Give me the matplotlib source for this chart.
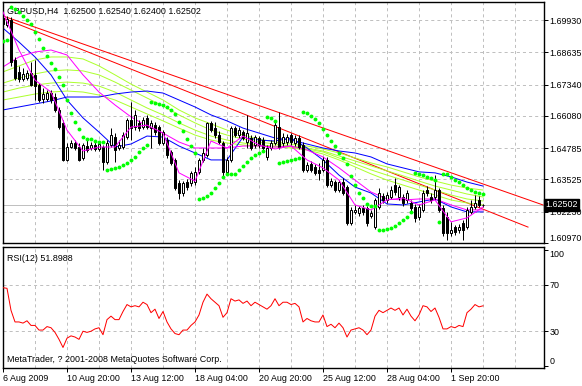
import matplotlib
matplotlib.use('Agg')
import matplotlib.pyplot as plt
import matplotlib.font_manager as fm
from matplotlib.transforms import blended_transform_factory

# GBPUSD H4, 121 bars (bar 0 = 6 Aug 2009)
opens = [1.7002, 1.6973, 1.6994, 1.6833, 1.6785, 1.6756, 1.6760, 1.6781, 1.6773, 1.6732,
         1.6676, 1.6676, 1.6700, 1.6684, 1.6632, 1.6580, 1.6431, 1.6483, 1.6499, 1.6483,
         1.6439, 1.6487, 1.6479, 1.6491, 1.6475, 1.6483, 1.6423, 1.6491, 1.6523, 1.6479,
         1.6483, 1.6523, 1.6592, 1.6563, 1.6580, 1.6563, 1.6600, 1.6559, 1.6571, 1.6563,
         1.6499, 1.6511, 1.6463, 1.6431, 1.6338, 1.6298, 1.6342, 1.6338, 1.6342, 1.6383,
         1.6431, 1.6451, 1.6580, 1.6559, 1.6531, 1.6499, 1.6383, 1.6431, 1.6559, 1.6531,
         1.6543, 1.6503, 1.6519, 1.6491, 1.6519, 1.6511, 1.6443, 1.6479, 1.6499, 1.6563,
         1.6499, 1.6503, 1.6531, 1.6499, 1.6519, 1.6491, 1.6391, 1.6415, 1.6403, 1.6391,
         1.6391, 1.6431, 1.6330, 1.6342, 1.6310, 1.6342, 1.6322, 1.6178, 1.6222, 1.6218,
         1.6238, 1.6238, 1.6206, 1.6161, 1.6242, 1.6286, 1.6270, 1.6282, 1.6330, 1.6282,
         1.6282, 1.6270, 1.6258, 1.6242, 1.6202, 1.6230, 1.6310, 1.6282, 1.6282, 1.6310,
         1.6238, 1.6202, 1.6137, 1.6161, 1.6149, 1.6178, 1.6161, 1.6222, 1.6242, 1.6270,
         1.62500]
highs = [1.7014, 1.7010, 1.7006, 1.6845, 1.6809, 1.6801, 1.6793, 1.6825, 1.6833, 1.6740,
         1.6720, 1.6712, 1.6712, 1.6700, 1.6644, 1.6592, 1.6499, 1.6511, 1.6511, 1.6499,
         1.6499, 1.6519, 1.6503, 1.6511, 1.6507, 1.6491, 1.6511, 1.6559, 1.6539, 1.6511,
         1.6543, 1.6600, 1.6664, 1.6632, 1.6592, 1.6604, 1.6612, 1.6592, 1.6584, 1.6571,
         1.6551, 1.6523, 1.6471, 1.6439, 1.6350, 1.6346, 1.6354, 1.6387, 1.6403, 1.6439,
         1.6479, 1.6584, 1.6588, 1.6584, 1.6547, 1.6507, 1.6443, 1.6567, 1.6567, 1.6563,
         1.6551, 1.6612, 1.6531, 1.6531, 1.6527, 1.6523, 1.6491, 1.6511, 1.6592, 1.6624,
         1.6539, 1.6535, 1.6539, 1.6531, 1.6531, 1.6503, 1.6423, 1.6427, 1.6415, 1.6419,
         1.6443, 1.6443, 1.6358, 1.6350, 1.6350, 1.6358, 1.6330, 1.6242, 1.6250, 1.6246,
         1.6250, 1.6246, 1.6230, 1.6278, 1.6318, 1.6298, 1.6302, 1.6326, 1.6358, 1.6330,
         1.6294, 1.6310, 1.6270, 1.6254, 1.6254, 1.6310, 1.6326, 1.6298, 1.6370, 1.6318,
         1.6250, 1.6222, 1.6182, 1.6169, 1.6174, 1.6190, 1.6242, 1.6270, 1.6290, 1.6286,
         1.62540]
lows = [1.6965, 1.6965, 1.6809, 1.6752, 1.6744, 1.6748, 1.6752, 1.6728, 1.6672, 1.6664,
        1.6660, 1.6668, 1.6660, 1.6624, 1.6555, 1.6427, 1.6427, 1.6479, 1.6471, 1.6427,
        1.6431, 1.6463, 1.6471, 1.6467, 1.6467, 1.6391, 1.6415, 1.6483, 1.6423, 1.6471,
        1.6475, 1.6515, 1.6511, 1.6551, 1.6547, 1.6555, 1.6555, 1.6479, 1.6531, 1.6491,
        1.6491, 1.6439, 1.6411, 1.6310, 1.6274, 1.6286, 1.6310, 1.6326, 1.6330, 1.6375,
        1.6423, 1.6443, 1.6543, 1.6519, 1.6495, 1.6358, 1.6375, 1.6423, 1.6523, 1.6519,
        1.6511, 1.6479, 1.6471, 1.6479, 1.6479, 1.6471, 1.6431, 1.6471, 1.6491, 1.6475,
        1.6487, 1.6491, 1.6491, 1.6487, 1.6475, 1.6383, 1.6383, 1.6383, 1.6370, 1.6350,
        1.6383, 1.6322, 1.6322, 1.6302, 1.6302, 1.6290, 1.6169, 1.6169, 1.6214, 1.6206,
        1.6210, 1.6165, 1.6198, 1.6153, 1.6234, 1.6258, 1.6258, 1.6274, 1.6290, 1.6270,
        1.6246, 1.6258, 1.6226, 1.6182, 1.6190, 1.6222, 1.6286, 1.6258, 1.6270, 1.6222,
        1.6125, 1.6109, 1.6125, 1.6129, 1.6137, 1.6109, 1.6153, 1.6214, 1.6234, 1.6242,
        1.62400]
closes = [1.6977, 1.6998, 1.6825, 1.6760, 1.6756, 1.6777, 1.6781, 1.6732, 1.6728, 1.6672,
          1.6696, 1.6700, 1.6672, 1.6632, 1.6563, 1.6431, 1.6483, 1.6499, 1.6479, 1.6431,
          1.6491, 1.6471, 1.6491, 1.6475, 1.6495, 1.6423, 1.6499, 1.6531, 1.6471, 1.6491,
          1.6531, 1.6592, 1.6559, 1.6612, 1.6559, 1.6592, 1.6563, 1.6580, 1.6543, 1.6499,
          1.6543, 1.6451, 1.6419, 1.6318, 1.6298, 1.6338, 1.6322, 1.6379, 1.6383, 1.6431,
          1.6459, 1.6580, 1.6551, 1.6531, 1.6503, 1.6383, 1.6431, 1.6559, 1.6531, 1.6551,
          1.6519, 1.6539, 1.6479, 1.6523, 1.6491, 1.6479, 1.6479, 1.6499, 1.6571, 1.6483,
          1.6523, 1.6523, 1.6503, 1.6519, 1.6483, 1.6391, 1.6411, 1.6391, 1.6379, 1.6379,
          1.6431, 1.6330, 1.6346, 1.6310, 1.6342, 1.6298, 1.6178, 1.6230, 1.6230, 1.6238,
          1.6222, 1.6178, 1.6218, 1.6270, 1.6298, 1.6270, 1.6290, 1.6310, 1.6302, 1.6322,
          1.6258, 1.6298, 1.6238, 1.6198, 1.6242, 1.6298, 1.6298, 1.6270, 1.6310, 1.6230,
          1.6137, 1.6137, 1.6149, 1.6141, 1.6161, 1.6149, 1.6230, 1.6242, 1.6258, 1.6250,
          1.62502]

# parabolic SAR dots, one per bar
sar = [1.6909, 1.6913, 1.7046, 1.7038, 1.7026, 1.7010, 1.6994, 1.6977, 1.6945, 1.6917,
       1.6881, 1.6849, 1.6821, 1.6797, 1.6765, 1.6732, 1.6672, 1.6620, 1.6584, 1.6555,
       1.6523, 1.6515, 1.6515, 1.6507, 1.6503, 1.6503, 1.6391, 1.6395, 1.6399, 1.6403,
       1.6411, 1.6419, 1.6431, 1.6443, 1.6463, 1.6479, 1.6491, 1.6664, 1.6660, 1.6656,
       1.6652, 1.6644, 1.6632, 1.6616, 1.6584, 1.6547, 1.6515, 1.6487, 1.6459, 1.6274,
       1.6278, 1.6286, 1.6298, 1.6318, 1.6338, 1.6363, 1.6375, 1.6375, 1.6375, 1.6391,
       1.6407, 1.6423, 1.6439, 1.6451, 1.6459, 1.6467, 1.6604, 1.6600, 1.6588, 1.6419,
       1.6423, 1.6427, 1.6431, 1.6435, 1.6439, 1.6624, 1.6620, 1.6608, 1.6596, 1.6580,
       1.6555, 1.6531, 1.6507, 1.6487, 1.6459, 1.6439, 1.6415, 1.6367, 1.6330, 1.6298,
       1.6278, 1.6254, 1.6246, 1.6246, 1.6149, 1.6149, 1.6153, 1.6157, 1.6165, 1.6178,
       1.6190, 1.6202, 1.6222, 1.6379, 1.6375, 1.6370, 1.6363, 1.6358, 1.6350, 1.6182,
       1.6375, 1.6375, 1.6363, 1.6350, 1.6342, 1.6330, 1.6318, 1.6310, 1.6302, 1.6298,
       1.6294]

# RSI(12), one per bar
rsi = [67.5, 67, 48, 38, 38, 37, 39, 35, 35, 31,
       31, 34, 33, 29, 23, 16, 24, 26, 25, 23,
       30, 29, 30, 32, 33, 27, 40, 43, 40, 40,
       47, 53, 51, 52, 51, 55, 53, 46, 49, 41,
       47, 38, 32, 28, 27, 31, 31, 35, 38, 44,
       55, 62, 58, 55, 52, 42, 46, 58, 56, 57,
       54, 56, 52, 55, 53, 51, 49, 52, 58, 52,
       55, 55, 53, 54, 51, 38, 41, 39, 38, 38,
       44, 34, 36, 33, 37, 33, 25, 31, 32, 33,
       31, 27, 31, 43, 48, 46, 48, 50, 48, 50,
       44, 49, 43, 39, 44, 52, 51, 47, 50, 42,
       32, 32, 34, 33, 35, 34, 46, 49, 53, 51,
       51.8988]

# moving averages, read every 4 bars
ma_idx = list(range(0, 121, 4))
blue_fast = [1.6961, 1.6905, 1.6845, 1.6773, 1.6672, 1.6600, 1.6543, 1.6483, 1.6495, 1.6527,
             1.6523, 1.6487, 1.6459, 1.6431, 1.6431, 1.6523, 1.6511, 1.6507, 1.6519, 1.6479,
             1.6431, 1.6370, 1.6322, 1.6298, 1.6254, 1.6250, 1.6262, 1.6274, 1.6242, 1.6222,
             1.6222]
blue_slow = [1.6632, 1.6644, 1.6656, 1.6668, 1.6684, 1.6684, 1.6684, 1.6696, 1.6704, 1.6708,
             1.6700, 1.6672, 1.6644, 1.6612, 1.6588, 1.6559, 1.6539, 1.6519, 1.6511, 1.6495,
             1.6479, 1.6467, 1.6459, 1.6443, 1.6415, 1.6399, 1.6383, 1.6379, 1.6363, 1.6342,
             1.6326]
magenta_fast = [1.7026, 1.6873, 1.6752, 1.6704, 1.6551, 1.6467, 1.6483, 1.6483, 1.6563, 1.6571,
                1.6539, 1.6379, 1.6346, 1.6507, 1.6479, 1.6527, 1.6491, 1.6475, 1.6487, 1.6431,
                1.6399, 1.6350, 1.6250, 1.6230, 1.6270, 1.6278, 1.6250, 1.6270, 1.6182, 1.6198,
                1.6242]
magenta_slow = [1.6805, 1.6845, 1.6865, 1.6873, 1.6853, 1.6773, 1.6704, 1.6652, 1.6604, 1.6567,
                1.6539, 1.6503, 1.6479, 1.6479, 1.6479, 1.6487, 1.6487, 1.6483, 1.6487, 1.6471,
                1.6443, 1.6399, 1.6350, 1.6302, 1.6274, 1.6270, 1.6274, 1.6274, 1.6250, 1.6230,
                1.6230]
yg1 = [1.6785, 1.6809, 1.6833, 1.6845, 1.6845, 1.6837, 1.6809, 1.6773, 1.6736, 1.6704,
       1.6672, 1.6632, 1.6600, 1.6576, 1.6551, 1.6531, 1.6515, 1.6503, 1.6495, 1.6487,
       1.6475, 1.6459, 1.6439, 1.6419, 1.6403, 1.6383, 1.6363, 1.6346, 1.6330, 1.6318,
       1.6310]
yg2 = [1.6740, 1.6760, 1.6777, 1.6789, 1.6793, 1.6789, 1.6773, 1.6744, 1.6712, 1.6680,
       1.6648, 1.6612, 1.6580, 1.6551, 1.6531, 1.6515, 1.6503, 1.6495, 1.6487, 1.6479,
       1.6467, 1.6447, 1.6427, 1.6407, 1.6387, 1.6367, 1.6346, 1.6326, 1.6310, 1.6294,
       1.6282]
yg3 = [1.6704, 1.6720, 1.6732, 1.6740, 1.6744, 1.6740, 1.6728, 1.6704, 1.6672, 1.6640,
       1.6612, 1.6580, 1.6551, 1.6527, 1.6511, 1.6499, 1.6491, 1.6487, 1.6483, 1.6475,
       1.6463, 1.6439, 1.6415, 1.6391, 1.6370, 1.6350, 1.6330, 1.6310, 1.6290, 1.6274,
       1.6266]
yg4 = [1.6672, 1.6684, 1.6696, 1.6704, 1.6708, 1.6704, 1.6692, 1.6672, 1.6644, 1.6616,
       1.6588, 1.6559, 1.6531, 1.6511, 1.6499, 1.6491, 1.6487, 1.6483, 1.6479, 1.6471,
       1.6455, 1.6431, 1.6403, 1.6375, 1.6350, 1.6330, 1.6310, 1.6290, 1.6270, 1.6258,
       1.6250]

# two hand drawn trend lines (bar index, price)
trend_a_x = [-0.75, 135.0]
trend_a_y = [1.7014, 1.6250]
trend_b_x = [0.0, 131.25]
trend_b_y = [1.7001, 1.6161]

price_ticks = [1.69930, 1.68635, 1.67340, 1.66080, 1.64785, 1.63525, 1.62230, 1.60970]
rsi_ticks = [100, 70, 30, 0]
date_pos = [0, 16, 32, 48, 64, 80, 96, 112]
date_labels = ['6 Aug 2009', '10 Aug 20:00', '13 Aug 12:00', '18 Aug 04:00',
               '20 Aug 20:00', '25 Aug 12:00', '28 Aug 04:00', '1 Sep 20:00']
grid_pos = list(range(0, 129, 8))
last_price = 1.62502

names = {f.name for f in fm.fontManager.ttflist}
if 'Liberation Sans Narrow' in names:
    font, fsize = 'Liberation Sans Narrow', 7.6
else:
    font, fsize = 'Liberation Sans', 6.4
plt.rcParams['font.family'] = font
plt.rcParams['font.size'] = fsize
plt.rcParams['lines.scale_dashes'] = False

W, H = 582, 386
fig = plt.figure(figsize=(W / 100, H / 100), dpi=100)
fig.patch.set_facecolor('white')
px = 0.72  # one pixel in points

ax = fig.add_axes([2.5 / W, 1 - 243 / H, 541.5 / W, 241 / H])
ax2 = fig.add_axes([2.5 / W, 1 - 368 / H, 541.5 / W, 121 / H])

grid_kw = dict(color='#c0c0c0', lw=px, ls=(0, (2.2, 2.2)), zorder=0)
for a in (ax, ax2):
    a.set_xlim(-0.125, 135.25)
    for g in grid_pos:
        a.axvline(g, **grid_kw)
    for s in a.spines.values():
        s.set_linewidth(1.0)
        s.set_color('black')
    a.yaxis.tick_right()
    a.tick_params(axis='y', length=3, width=px, pad=1, labelsize=fsize)

# ---- price panel ----
ax.set_ylim(1.6097, 1.7066)
for p in price_ticks:
    ax.axhline(p, **grid_kw)
ax.axhline(last_price, color='#c0c0c0', lw=px, zorder=1)

idx = list(range(len(closes)))
ax.vlines(idx, lows, highs, color='black', lw=px, zorder=3)
body_lo = [min(o, c) for o, c in zip(opens, closes)]
body_h = [abs(c - o) for o, c in zip(opens, closes)]
body_col = ['black' if c < o else 'white' for o, c in zip(opens, closes)]
ax.bar(idx, body_h, bottom=body_lo, width=0.72, color=body_col,
       edgecolor='black', linewidth=px, zorder=4)

ax.plot(trend_a_x, trend_a_y, color='#ff0000', lw=px, zorder=2)
ax.plot(trend_b_x, trend_b_y, color='#ff0000', lw=px, zorder=2)

for ys in (yg1, yg2, yg3, yg4):
    ax.plot(ma_idx, ys, color='#adff2f', lw=px, zorder=2)
ax.plot(ma_idx, blue_slow, color='#0000ff', lw=px, zorder=2)
ax.plot(ma_idx, blue_fast, color='#0000ff', lw=px, zorder=2)
ax.plot(ma_idx, magenta_slow, color='#ff00ff', lw=px, zorder=2)
ax.plot(ma_idx, magenta_fast, color='#ff00ff', lw=px, zorder=5)

ax.plot(idx, sar, 'o', color='#00ff00', ms=2.8, mew=0, zorder=6)

ax.set_xticks([])
ax.set_yticks(price_ticks)
ax.set_yticklabels(['%.5f' % p for p in price_ticks])
ax.get_yticklabels()[-1].set_va('bottom')

tr = blended_transform_factory(ax.transAxes, ax.transData)
ax.text(1.003, last_price, '%.5f' % last_price, transform=tr, color='white',
        va='center', ha='left', fontsize=fsize, zorder=10,
        bbox=dict(boxstyle='square,pad=0.15', fc='black', ec='black'))

ax.text(0.008, 0.963, 'GBPUSD,H4  1.62500 1.62540 1.62400 1.62502',
        transform=ax.transAxes, va='center', ha='left', zorder=5)

# ---- RSI panel ----
ax2.set_ylim(-1.7, 102.6)
for lv in (70, 30):
    ax2.axhline(lv, **grid_kw)
ax2.plot(idx, rsi, color='#ff0000', lw=px, zorder=3)
ax2.set_yticks(rsi_ticks)
ax2.set_yticklabels([str(v) for v in rsi_ticks])
ax2.get_yticklabels()[0].set_va('top')
ax2.get_yticklabels()[-1].set_va('bottom')
ax2.set_xticks(date_pos)
ax2.set_xticklabels(date_labels, ha='left')
ax2.tick_params(axis='x', length=3, width=px, pad=1, labelsize=fsize)

ax2.text(0.008, 0.909, 'RSI(12) %.4f' % rsi[-1], transform=ax2.transAxes,
         va='center', ha='left')
ax2.text(0.008, 0.074, 'MetaTrader, ? 2001-2008 MetaQuotes Software Corp.',
         transform=ax2.transAxes, va='center', ha='left')

fig.savefig('out.png', dpi=100, facecolor='white')
